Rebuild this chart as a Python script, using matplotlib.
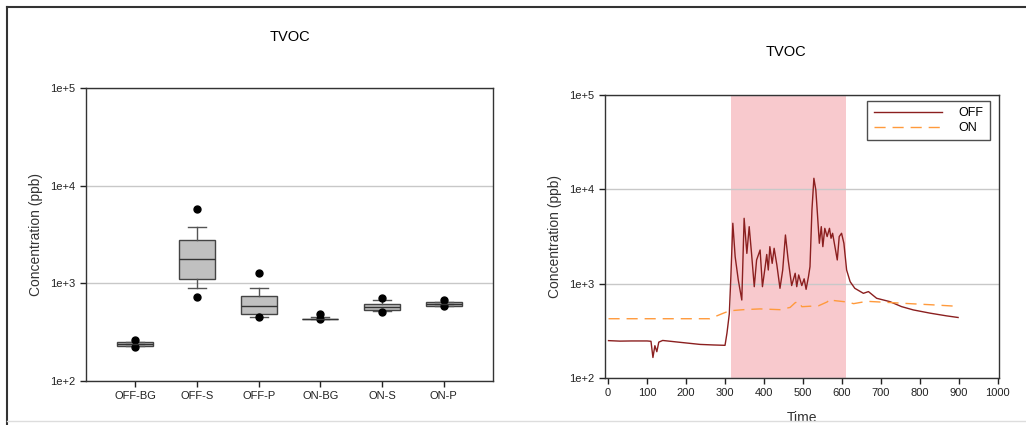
import matplotlib
matplotlib.use('Agg')
import math
import matplotlib.pyplot as plt
from matplotlib.lines import Line2D
from matplotlib.ticker import FixedLocator, FuncFormatter, NullLocator

plt.rcParams['font.family'] = ['Liberation Sans', 'DejaVu Sans']

# box plot stats (ppb)
groups = ['OFF-BG', 'OFF-S', 'OFF-P', 'ON-BG', 'ON-S', 'ON-P']
q1 = [226, 1100, 485, 428, 537, 582]
med = [240, 1790, 590, 432, 569, 619]
q3 = [253, 2780, 747, 436, 610, 644]
whislo = [226, 902, 449, 428, 518, 582]
whishi = [253, 3780, 896, 455, 670, 644]
fliers = [[263, 221], [5730, 724], [1268, 447], [482, 436], [713, 509], [676, 586]]

# time series (ppb)
off_t = [1, 30, 60, 100, 110, 115, 120, 125, 130, 140, 180, 236, 270, 300, 305, 311,
         315, 320, 326, 334, 343, 349, 356, 362, 368, 375, 381, 390, 396, 403, 407, 411,
         415, 421, 426, 433, 441, 448, 455, 462, 471, 480, 484, 489, 497, 503, 508, 514,
         518, 523, 528, 533, 537, 542, 547, 551, 556, 562, 568, 572, 576, 582, 588, 593,
         599, 605, 612, 621, 633, 655, 668, 689, 723, 753, 783, 826, 868, 898]
off_v = [249, 246, 247, 247, 245, 165, 220, 190, 240, 250, 240, 227, 224, 222, 300, 480,
         1200, 4370, 1930, 1094, 671, 4930, 2094, 4020, 2094, 929, 1783, 2274, 929, 1514, 2040, 1396,
         2468, 1641, 2371, 1578, 893, 1396, 3281, 1783, 955, 1289, 929, 1237, 955, 1126, 871, 1180,
         1514, 6040, 13100, 9840, 5570, 2680, 4020, 2468, 3860, 3155, 3860, 3030, 3420, 2468, 1783, 3155,
         3420, 2680, 1396, 1050, 893, 790, 824, 700, 645, 571, 527, 487, 456, 438]

on_t = [1, 100, 200, 261, 296, 312, 347, 390, 441, 467, 480, 489, 497, 540, 562, 570,
        577, 612, 630, 664, 732, 774, 834, 898]
on_v = [425, 425, 425, 425, 487, 516, 530, 540, 530, 560, 628, 648, 570, 583, 640, 690,
        664, 640, 614, 650, 628, 614, 596, 575]

fig = plt.figure(figsize=(10.26, 4.25), dpi=100)

def decade_fmt(v, pos):
    return '1e+%d' % round(math.log10(v))

def style_log_axis(ax):
    ax.set_yscale('log')
    ax.set_ylim(100, 100000)
    ax.yaxis.set_major_locator(FixedLocator([100, 1000, 10000, 100000]))
    ax.yaxis.set_minor_locator(NullLocator())
    ax.yaxis.set_major_formatter(FuncFormatter(decade_fmt))
    ax.yaxis.grid(True, color='#c8c8c8', linewidth=1)
    ax.set_axisbelow(True)
    ax.tick_params(direction='out', length=4, width=1, labelsize=8, colors='#222222')
    for s in ax.spines.values():
        s.set_color('#333333')
        s.set_linewidth(1)

# left: box plot
ax1 = fig.add_axes([86/1026, 1-381/425, 407/1026, 293/425])
stats = []
for i in range(len(groups)):
    stats.append(dict(label=groups[i], q1=q1[i], med=med[i], q3=q3[i],
                      whislo=whislo[i], whishi=whishi[i], fliers=fliers[i]))
ax1.bxp(stats, positions=range(1, 7), widths=0.58, patch_artist=True,
        boxprops=dict(facecolor='#c0c0c0', edgecolor='#444444', linewidth=1),
        medianprops=dict(color='#333333', linewidth=1),
        whiskerprops=dict(color='#555555', linewidth=1),
        capprops=dict(color='#555555', linewidth=1),
        flierprops=dict(marker='o', markerfacecolor='black', markeredgecolor='black', markersize=5))
ax1.set_xlim(0.2, 6.8)
style_log_axis(ax1)
ax1.set_ylabel('Concentration (ppb)', fontsize=10, color='#333333', labelpad=5)

# right: time series
ax2 = fig.add_axes([605/1026, 1-378/425, 394/1026, 283/425])
ax2.axvspan(315, 610, color='#f8c9cd', zorder=0.5, linewidth=0)
ax2.plot(off_t, off_v, color='#8b1f1f', linewidth=1, label='OFF')
ax2.plot(on_t, on_v, color='#ff9a3c', linewidth=1, dashes=(8, 5), label='ON')
ax2.set_xlim(-8, 1003)
ax2.set_xticks(range(0, 1001, 100))
style_log_axis(ax2)
ax2.set_ylabel('Concentration (ppb)', fontsize=10, color='#333333', labelpad=5)
ax2.set_xlabel('Time', fontsize=10, color='#333333', labelpad=9)
leg = ax2.legend(loc='upper right', bbox_to_anchor=(0.977, 0.978), fontsize=9,
                 handlelength=5.5, fancybox=False, frameon=True,
                 borderpad=0.5, handletextpad=1.3, labelspacing=0.2, borderaxespad=0)
leg.get_frame().set_edgecolor('#222222')
leg.get_frame().set_linewidth(1)

fig.text(290/1026, 1-37/425, 'TVOC', ha='center', va='center', fontsize=10.5)
fig.text(786/1026, 1-52/425, 'TVOC', ha='center', va='center', fontsize=10.5)

# outer frame
fig.add_artist(Line2D([7/1026, 7/1026], [0, 1-7/425], color='#333333', linewidth=1.5))
fig.add_artist(Line2D([7/1026, 1], [1-7/425, 1-7/425], color='#333333', linewidth=1.5))
fig.add_artist(Line2D([7/1026, 1], [1-421/425, 1-421/425], color='#dddddd', linewidth=1))

fig.savefig('out.png', dpi=100)
